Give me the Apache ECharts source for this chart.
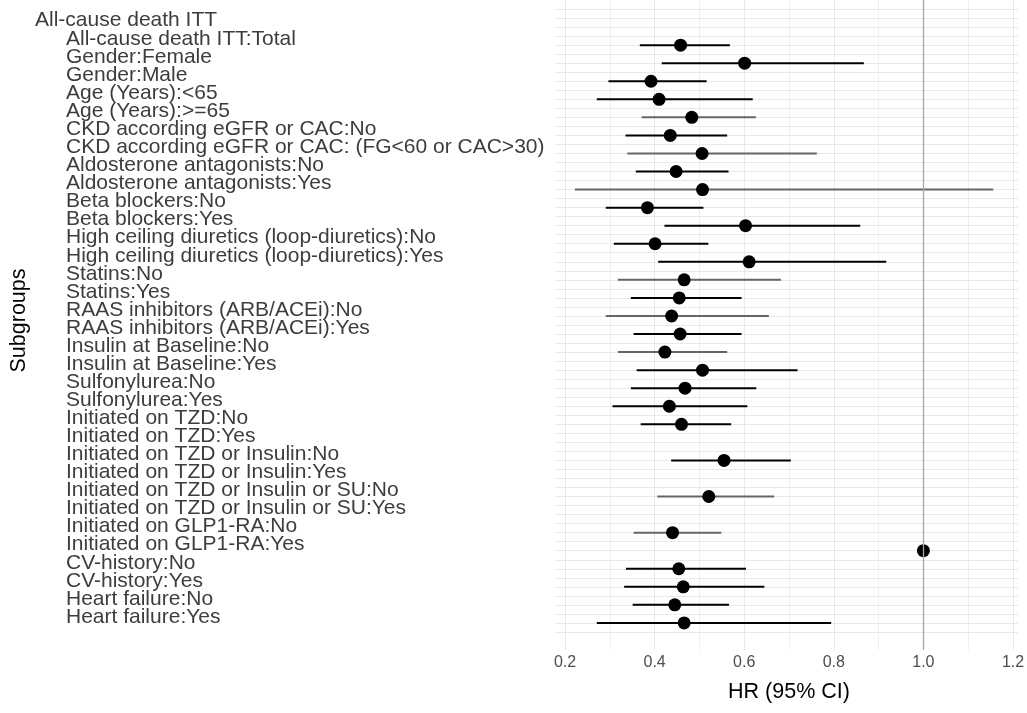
<!DOCTYPE html>
<html><head><meta charset="utf-8">
<script src="https://cdn.jsdelivr.net/npm/echarts@6/dist/echarts.min.js"></script>
<style>html,body{margin:0;padding:0;background:#fff}#chart{width:1027px;height:713px}</style>
</head><body><div id="chart"></div>
<script>
// ---------- data ----------
const headerLabel = 'All-cause death ITT';
const subgroups = [
  'All-cause death ITT:Total',
  'Gender:Female',
  'Gender:Male',
  'Age (Years):<65',
  'Age (Years):>=65',
  'CKD according eGFR or CAC:No',
  'CKD according eGFR or CAC: (FG<60 or CAC>30)',
  'Aldosterone antagonists:No',
  'Aldosterone antagonists:Yes',
  'Beta blockers:No',
  'Beta blockers:Yes',
  'High ceiling diuretics (loop-diuretics):No',
  'High ceiling diuretics (loop-diuretics):Yes',
  'Statins:No',
  'Statins:Yes',
  'RAAS inhibitors (ARB/ACEi):No',
  'RAAS inhibitors (ARB/ACEi):Yes',
  'Insulin at Baseline:No',
  'Insulin at Baseline:Yes',
  'Sulfonylurea:No',
  'Sulfonylurea:Yes',
  'Initiated on TZD:No',
  'Initiated on TZD:Yes',
  'Initiated on TZD or Insulin:No',
  'Initiated on TZD or Insulin:Yes',
  'Initiated on TZD or Insulin or SU:No',
  'Initiated on TZD or Insulin or SU:Yes',
  'Initiated on GLP1-RA:No',
  'Initiated on GLP1-RA:Yes',
  'CV-history:No',
  'CV-history:Yes',
  'Heart failure:No',
  'Heart failure:Yes'
];
const hr = [0.458, 0.601, 0.392, 0.410, 0.483, 0.435, 0.506, 0.448, 0.507, 0.384,
            0.603, 0.401, 0.611, 0.466, 0.455, 0.438, 0.457, 0.423, 0.507, 0.468,
            0.433, 0.460, null, 0.555, null, 0.521, null, 0.440, 1.000, 0.454,
            0.464, 0.445, 0.466];
const ciLow = [0.367, 0.416, 0.297, 0.271, 0.371, 0.335, 0.339, 0.358, 0.222, 0.291,
               0.422, 0.309, 0.408, 0.318, 0.347, 0.291, 0.353, 0.318, 0.360, 0.347,
               0.306, 0.369, null, 0.437, null, 0.406, null, 0.353, null, 0.336,
               0.332, 0.351, 0.271];
const ciHigh = [0.568, 0.867, 0.516, 0.619, 0.626, 0.562, 0.762, 0.565, 1.156, 0.509,
                0.859, 0.520, 0.917, 0.682, 0.594, 0.655, 0.594, 0.562, 0.719, 0.627,
                0.607, 0.571, null, 0.704, null, 0.667, null, 0.549, null, 0.604,
                0.645, 0.566, 0.794];
const xTickValues = [0.2, 0.4, 0.6, 0.8, 1.0, 1.2];
const referenceHR = 1;

// ---------- style ----------
const greyCiRows = new Set([4, 6, 8, 13, 15, 17, 25, 27]);
const gridColor = '#e9e9e9';
const minorGridColor = '#efefef';
const labelColor = '#3d3d3d';
const FONT = 'Liberation Sans, Arial, sans-serif';

const ciData = [];
const pointData = [];
subgroups.forEach((name, k) => {
  if (ciLow[k] != null && ciHigh[k] != null) ciData.push([ciLow[k], ciHigh[k], k, name]);
  if (hr[k] != null) pointData.push([hr[k], k, name]);
});

const chart = echarts.init(document.getElementById('chart'), null, {renderer: 'canvas'});
const option = {
  backgroundColor: '#fff',
  animation: false,
  grid: [
    {left: 555, right: 9, top: 8.94, bottom: 81, containLabel: false, outerBoundsMode: 'none'},
    {left: 565, right: 14, top: 0, bottom: 63, containLabel: false, outerBoundsMode: 'none'}
  ],
  xAxis: [
    {gridIndex: 0, type: 'value', min: 0, max: 1, show: false},
    {
      gridIndex: 1, type: 'value', min: 0.2, max: 1.2, interval: 0.2,
      axisLine: {show: false}, axisTick: {show: false},
      axisLabel: {
        fontFamily: FONT, fontSize: 16, color: '#4d4d4d', margin: 5,
        formatter: v => xTickValues.some(t => Math.abs(t - v) < 1e-9) ? v.toFixed(1) : ''
      },
      splitLine: {show: true, lineStyle: {color: gridColor, width: 1}},
      minorTick: {show: false, splitNumber: 2},
      minorSplitLine: {show: true, lineStyle: {color: minorGridColor, width: 1}},
      name: 'HR (95% CI)', nameLocation: 'middle', nameGap: 31,
      nameTextStyle: {fontFamily: FONT, fontSize: 21.5, color: '#000'}
    }
  ],
  yAxis: [
    {
      gridIndex: 0, type: 'value', inverse: true, min: -2, max: 32.5, interval: 0.5,
      axisLine: {show: false}, axisTick: {show: false},
      splitLine: {show: true, lineStyle: {color: gridColor, width: 1}},
      axisLabel: {
        show: true, align: 'left', margin: 520, hideOverlap: false,
        fontFamily: FONT, fontSize: 21, color: labelColor,
        formatter: function (value) {
          const j = value + 1.5;
          const r = Math.round(j);
          if (Math.abs(j - r) > 1e-6) return '';
          if (r === 0) return '{h|' + headerLabel + '}';
          if (r >= 1 && r <= subgroups.length) return '{s|' + subgroups[r - 1] + '}';
          return '';
        },
        rich: {
          h: {fontFamily: FONT, fontSize: 21, color: labelColor, padding: [5, 0, 0, 0]},
          s: {fontFamily: FONT, fontSize: 21, color: labelColor, padding: [6, 0, 0, 31]}
        }
      },
      name: 'Subgroups', nameLocation: 'middle', nameGap: 525,
      nameTextStyle: {fontFamily: FONT, fontSize: 21.5, color: '#000'}
    },
    {gridIndex: 1, type: 'value', inverse: true, min: -2.5, max: 33.5, show: false}
  ],
  series: [
    {
      type: 'custom', xAxisIndex: 1, yAxisIndex: 1, silent: true,
      encode: {x: [0, 1], y: 2},
      data: ciData,
      renderItem: function (params, api) {
        const k = api.value(2);
        const p1 = api.coord([api.value(0), k]);
        const p2 = api.coord([api.value(1), k]);
        return {
          type: 'line',
          shape: {x1: p1[0], y1: p1[1], x2: p2[0], y2: p2[1]},
          style: {stroke: greyCiRows.has(k) ? '#666666' : '#000000', lineWidth: 2}
        };
      },
      markLine: {
        silent: true, symbol: 'none', label: {show: false},
        lineStyle: {color: '#a8a8a8', width: 1.3, type: 'solid', opacity: 1},
        data: [{xAxis: referenceHR}]
      },
      z: 3
    },
    {
      type: 'scatter', xAxisIndex: 1, yAxisIndex: 1, silent: true,
      data: pointData, symbol: 'circle', symbolSize: 13,
      itemStyle: {color: '#000', opacity: 1}, z: 4
    }
  ]
};
chart.setOption(option);
</script>
</body></html>
